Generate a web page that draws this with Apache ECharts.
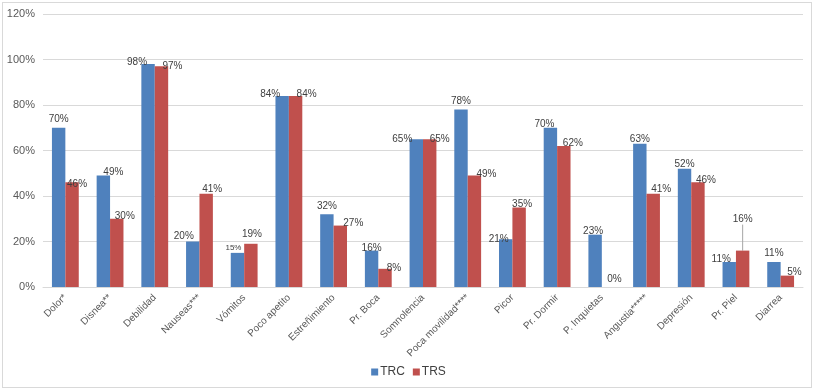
<!DOCTYPE html>
<html><head><meta charset="utf-8">
<script src="https://cdn.jsdelivr.net/npm/echarts@6/dist/echarts.min.js"></script>
<style>html,body{margin:0;padding:0;background:#fff}#c{width:817px;height:391px}
#frame{position:absolute;left:2px;top:2px;width:808px;height:384px;border:1px solid #d9d9d9;pointer-events:none}</style>
</head><body><div id="c"></div><div id="frame"></div>
<script>
const categories = ["Dolor*","Disnea**","Debilidad","Nauseas***","Vómitos","Poco apetito","Estreñimiento","Pr. Boca","Somnolencia","Poca movilidad****","Picor","Pr. Dormir","P. Inquietas","Angustia*****","Depresión","Pr. Piel","Diarrea"];
const trc = [70,49,98,20,15,84,32,16,65,78,21,70,23,63,52,11,11];
const trs = [46,30,97,41,19,84,27,8,65,49,35,62,0,41,46,16,5];
const yTicks = [0,20,40,60,80,100,120];

// label nudges (styling only), [dx, dy] in px from the default "top" position
const trcLabelShift = [[0,-2],[10,4],[-11,5],[-9,2],[-4,1],[-12,5],[0,-1],[0,5],[-14,7],[0,-1],[-7,7],[-6,3],[-2,4],[0,3],[0,3],[-8,4],[0,-2]];
const trsLabelShift = [[5,9],[8,4],[11,7],[6,3],[1,-3],[11,5],[13,5],[9,6],[10,7],[12,6],[3,4],[9,4],[6,-1],[8,3],[8,5],[0,-24],[7,4]];

const chart = echarts.init(document.getElementById('c'));
function mkLabel(){ return {show:true, position:'top', distance:2, color:'#404040', fontSize:10, fontFamily:'Liberation Sans, Arial', formatter: p => p.value + '%'}; }
function mkData(vals, series){
  return vals.map((v,i)=>{
    const d = {value:v};
    if (series==='TRC' && categories[i]==='Vómitos') d.label = {fontSize:8};
    if (series==='TRS' && categories[i]==='Pr. Piel') d.labelLine = {show:true, lineStyle:{color:'#a6a6a6', width:1}};
    return d;
  });
}
chart.setOption({
  animation:false,
  grid:{left:43, right:14, top:14, bottom:104},
  legend:{bottom:8, left:'center', itemWidth:7, itemHeight:7, itemGap:8, icon:'rect',
    textStyle:{color:'#404040', fontSize:12, fontFamily:'Liberation Sans, Arial', padding:[0,0,0,-3]},
    data:['TRC','TRS']},
  xAxis:{type:'category', data:categories,
    axisLine:{lineStyle:{color:'#d9d9d9'}}, axisTick:{show:false},
    axisLabel:{rotate:45, interval:0, color:'#595959', fontSize:10, fontFamily:'Liberation Sans, Arial', margin:9}},
  yAxis:{type:'value', min:yTicks[0], max:yTicks[yTicks.length-1], interval:20,
    axisLine:{show:false}, axisTick:{show:false},
    splitLine:{lineStyle:{color:'#d9d9d9'}},
    axisLabel:{color:'#595959', fontSize:11, fontFamily:'Liberation Sans, Arial', formatter: v => v + '%', margin:8}},
  series:[
    {name:'TRC', type:'bar', data:mkData(trc,'TRC'), itemStyle:{color:'#4F81BD'}, barGap:'0%', barCategoryGap:'40%', label:mkLabel(),
     labelLayout: p => ({dx:trcLabelShift[p.dataIndex][0], dy:trcLabelShift[p.dataIndex][1]})},
    {name:'TRS', type:'bar', data:mkData(trs,'TRS'), itemStyle:{color:'#C0504D'}, barGap:'0%', barCategoryGap:'40%', label:mkLabel(),
     labelLayout: p => ({dx:trsLabelShift[p.dataIndex][0], dy:trsLabelShift[p.dataIndex][1]})}
  ]
});
</script></body></html>
